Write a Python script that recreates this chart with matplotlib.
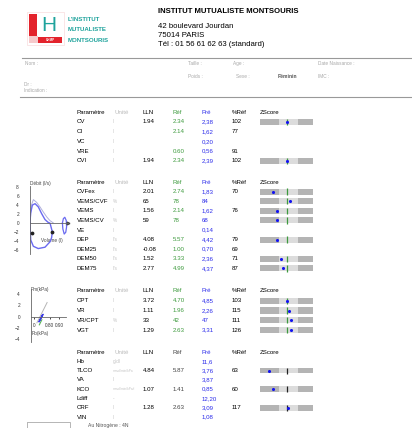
import numpy as np
import matplotlib.pyplot as plt
from matplotlib.patches import Rectangle

plt.rcParams["font.family"] = ["Liberation Sans", "DejaVu Sans"]

W, H = 412, 428
NAN = np.nan

# ---- report values ----
vol_params = ["CV", "CI", "VC", "VRE", "CVI"]
vol_units = ["l", "l", "l", "l", "l"]
vol_lln = [1.94, NAN, NAN, NAN, 1.94]
vol_ref = [2.34, 2.14, NAN, 0.60, 2.34]
vol_pre = [2.38, 1.62, 0.20, 0.56, 2.39]
vol_pct = [102, 77, NAN, 91, 102]
vol_z = [0.15, NAN, NAN, NAN, 0.15]

spi_params = ["CVFex", "VEMS/CVF", "VEMS", "VEMS/CV", "VE", "DEP", "DEM25", "DEM50", "DEM75"]
spi_units = ["l", "%", "l", "%", "l", "l/s", "l/s", "l/s", "l/s"]
spi_lln = [2.01, 65, 1.56, 59, NAN, 4.08, -0.08, 1.52, 2.77]
spi_ref = [2.74, 78, 2.14, 78, NAN, 5.57, 1.00, 3.33, 4.99]
spi_pre = [1.83, 84, 1.62, 68, 0.14, 4.42, 0.70, 2.36, 4.37]
spi_pct = [70, NAN, 76, NAN, NAN, 79, 69, 71, 87]
spi_z = [-2.0, 0.6, -1.5, -1.4, NAN, -1.4, NAN, -0.9, -0.6]

ple_params = ["CPT", "VR", "VR/CPT", "VGT"]
ple_units = ["l", "l", "%", "l"]
ple_lln = [3.72, 1.11, 33, 1.29]
ple_ref = [4.70, 1.96, 42, 2.63]
ple_pre = [4.85, 2.26, 47, 3.31]
ple_pct = [103, 115, 111, 126]
ple_z = [0.15, 0.45, 0.75, 0.75]

dif_params = ["Hb", "TLCO", "VA", "KCO", "Ldiff", "CRF", "VIN"]
dif_units = ["g/dl", "mmol/min/kPa", "l", "mmol/min/kPa/l", "-", "l", "l"]
dif_lln = [NAN, 4.84, NAN, 1.07, NAN, 1.28, NAN]
dif_ref = [NAN, 5.87, NAN, 1.41, NAN, 2.63, NAN]
dif_pre = [11.6, 3.76, 3.87, 0.85, 12.20, 3.09, 1.08]
dif_pct = [NAN, 63, NAN, 60, NAN, 117, NAN]
dif_z = [NAN, -2.7, NAN, -2.1, NAN, 0.3, NAN]

# flow-volume loop (volume l, flow l/s)
fv_ref_vol = [0.0, 0.12, 0.28, 0.55, 0.83, 1.1, 1.39, 1.65, 1.94]
fv_ref_flow = [0.0, 4.0, 5.2, 4.6, 3.6, 2.5, 1.4, 0.6, 0.05]
fv_vol = [0.0, 0.05, 0.2, 0.42, 0.69, 0.97, 1.25, 1.5, 1.67, 1.86, 1.8, 1.67,
          1.25, 0.69, 0.28, 0.06, 0.0]
fv_flow = [0.0, 2.2, 4.0, 4.3, 3.6, 2.1, 0.8, 0.2, 0.0, -1.9, -3.2, -4.1,
           -5.3, -5.6, -5.1, -3.7, 0.0]
fv_tid_vol = [2.7, 2.78, 2.9, 3.02, 3.05, 2.98, 2.85, 2.74, 2.7]
fv_tid_flow = [0.0, 1.0, 1.3, 0.6, -0.8, -2.0, -2.4, -1.3, 0.0]
fv_mark_vol = [0.17, 1.83]
fv_mark_flow = [-2.2, -2.0]
fv_ticks = [8, 6, 4, 2, 0, -2, -4, -6]

# pressure loop (Pb kPa, Pm kPa)
pv_ref_x = [0.09, 0.42]
pv_ref_y = [-1.1, 2.5]
pv_x = [0.16, 0.2, 0.25, 0.29, 0.27, 0.22, 0.17]
pv_y = [-0.9, -0.5, 0.0, 0.4, 0.3, -0.2, -0.8]
pv_g_x = [0.17, 0.25]
pv_g_y = [-1.45, -0.55]
pv_yticks = [4, 2, 0, -2, -4]
pv_xticks = [0.0, 0.5, 0.8]
pv_xlabels = ["0", "0.80", "0.90"]

GREEN = "#3d9a3d"
BLUE = "#2b2bea"
TEAL = "#1fa39c"
RED = "#e3232c"
LIGHT = "#a8a8a8"
FS = 4.4


def fmt(v, unit, comma=False):
    if np.isnan(v):
        return ""
    if unit == "%":
        s = f"{v:.0f}"
    elif unit == "g/dl":
        s = f"{v:.1f}"
    else:
        s = f"{v:.2f}"
    return s.replace(".", ",") if comma else s


def px_axes(fig, x0, y0, x1, y1):
    return fig.add_axes([x0 / W, 1 - y1 / H, (x1 - x0) / W, (y1 - y0) / H])


def draw_table(fig, ax, y0, dy, params, units, lln, ref, pre, pct, z,
               ref_color=GREEN, zline=GREEN):
    cols = [77, 115, 143, 173, 202, 232, 260]
    heads = ["Paramètre", "Unité", "LLN", "Réf", "Pré", "%Réf", "ZScore"]
    hcol = ["black", "#bbbbbb", "black", ref_color, BLUE, "black", "black"]
    for x, t, c in zip(cols, heads, hcol):
        ax.text(x, y0, t, fontsize=FS, color=c, va="center")
    for i, p in enumerate(params):
        y = y0 + dy * (i + 1)
        ufs = 3.4 if len(units[i]) < 6 else 2.3
        ax.text(cols[0], y, p, fontsize=FS, va="center")
        ax.text(cols[1] - 2, y, units[i], fontsize=ufs, color="#c4c4c4", va="center")
        ax.text(cols[2], y, fmt(lln[i], units[i]), fontsize=FS, va="center")
        ax.text(cols[3], y, fmt(ref[i], units[i]), fontsize=FS, color=ref_color, va="center")
        ax.text(cols[4], y, fmt(pre[i], units[i], comma=True), fontsize=FS, color=BLUE, va="center")
        ax.text(cols[5], y, fmt(pct[i], "%"), fontsize=FS, va="center")

    n = len(params)
    zax = px_axes(fig, 260, y0 + dy * 0.5, 313, y0 + dy * (n + 0.5))
    zax.set_xlim(-4, 4)
    zax.set_ylim(n + 0.5, 0.5)
    zax.axis("off")
    rows = [i + 1 for i in range(n) if not np.isnan(z[i])]
    zv = [v for v in z if not np.isnan(v)]
    edges = [-4, -1.2, 1.8, 4]
    shades = ["#b4b4b4", "#dcdcdc", "#b4b4b4"]
    for a, b, c in zip(edges[:-1], edges[1:], shades):
        zax.barh(rows, b - a, left=a, height=0.62, color=c, linewidth=0)
    zax.vlines([0] * len(rows), [r - 0.33 for r in rows], [r + 0.33 for r in rows],
               color=zline, lw=0.9)
    zax.scatter(zv, rows, s=5, color="#1414f0", zorder=3, linewidths=0)


fig = plt.figure(figsize=(W / 100, H / 100), dpi=100)
ax = fig.add_axes([0, 0, 1, 1])
ax.set_xlim(0, W)
ax.set_ylim(H, 0)
ax.axis("off")

# logo
ax.add_patch(Rectangle((27, 12), 37, 33, fill=False, ec="#f8dcdd", lw=0.5))
ax.add_patch(Rectangle((29, 14), 8, 22, color=RED, lw=0))
ax.add_patch(Rectangle((29, 36), 9, 7, color="#f6c9cb", lw=0))
ax.add_patch(Rectangle((38, 37), 24, 6, color=RED, lw=0))
ax.text(50, 40, "GHMP", fontsize=2.2, color="white", ha="center", va="center", weight="bold")
ax.text(49, 25, "H", fontsize=15, color=TEAL, ha="center", va="center")
for y, t in zip([19, 29, 40], ["L'INSTITUT", "MUTUALISTE", "MONTSOURIS"]):
    ax.text(68, y, t, fontsize=4.4, color=TEAL, weight="bold", va="center")

ax.text(158, 11, "INSTITUT MUTUALISTE MONTSOURIS", fontsize=5.6, weight="bold", va="center")
for y, t in zip([26, 35, 44], ["42 boulevard Jourdan", "75014 PARIS",
                               "Tél : 01 56 61 62 63 (standard)"]):
    ax.text(158, y, t, fontsize=5.6, va="center")

# patient block
ax.plot([22, W], [58, 58], color="#999999", lw=0.8)
ax.plot([20, W], [97, 97], color="#999999", lw=0.8)
fields = [(25, 63, "Nom :"), (188, 63, "Taille :"), (233, 63, "Age :"),
          (318, 63, "Date Naissance :"), (188, 76, "Poids :"), (236, 76, "Sexe :"),
          (318, 76, "IMC :"), (24, 84, "Dr :"), (24, 90, "Indication :")]
for x, y, t in fields:
    ax.text(x, y, t, fontsize=3.4, color=LIGHT, va="center")
ax.text(278, 76, "Féminin", fontsize=3.6, color="#555555", weight="bold", va="center")

draw_table(fig, ax, 112, 9.8, vol_params, vol_units, vol_lln, vol_ref, vol_pre, vol_pct, vol_z)
draw_table(fig, ax, 182, 9.6, spi_params, spi_units, spi_lln, spi_ref, spi_pre, spi_pct, spi_z)
draw_table(fig, ax, 291, 9.75, ple_params, ple_units, ple_lln, ple_ref, ple_pre, ple_pct, ple_z)
draw_table(fig, ax, 352, 9.3, dif_params, dif_units, dif_lln, dif_ref, dif_pre, dif_pct, dif_z,
           ref_color="#444444", zline="#222222")

# flow-volume loop
fv = px_axes(fig, 30, 186, 72, 254)
fv.set_xlim(0, 42 / 12)
fv.set_ylim(-6.8, 8.2)
for s in ["top", "right"]:
    fv.spines[s].set_visible(False)
fv.spines["bottom"].set_position(("data", 0))
fv.spines["bottom"].set_bounds(0, 3.2)
for s in ["left", "bottom"]:
    fv.spines[s].set_color("#666666")
    fv.spines[s].set_linewidth(0.6)
fv.set_xticks([])
fv.set_yticks(fv_ticks)
fv.tick_params(axis="y", labelsize=3.4, length=0, pad=8, labelcolor="#333333")
fv.patch.set_alpha(0)
fv.plot(fv_ref_vol, fv_ref_flow, color="#b0b0dc", lw=0.7)
fv.plot(fv_vol, fv_flow, color="#6a6af0", lw=1.0)
fv.plot(fv_tid_vol, fv_tid_flow, color="#6a6af0", lw=0.9)
fv.scatter(fv_mark_vol, fv_mark_flow, s=3, color="#222222", zorder=3)
fv.plot([3.2], [0], marker=">", ms=2, color="#444444")
ax.text(40, 183, "Débit (l/s)", fontsize=3.4, color="#444444", ha="center", va="center")
ax.text(52, 240, "Volume (l)", fontsize=3.4, color="#444444", ha="center", va="center")

# pressure plot
pv = px_axes(fig, 31, 289, 66, 342)
pv.set_xlim(-0.1, 1.03)
pv.set_ylim(-4.5, 4.9)
for s in ["top", "right"]:
    pv.spines[s].set_visible(False)
pv.spines["bottom"].set_position(("data", 0))
for s in ["left", "bottom"]:
    pv.spines[s].set_color("#666666")
    pv.spines[s].set_linewidth(0.6)
pv.set_yticks(pv_yticks)
pv.set_xticks(pv_xticks)
pv.set_xticklabels(pv_xlabels)
pv.tick_params(axis="y", labelsize=3.4, length=0, pad=8, labelcolor="#333333")
pv.tick_params(axis="x", labelsize=3.4, length=1.5, width=0.5, pad=3, labelcolor="#333333")
pv.patch.set_alpha(0)
pv.plot(pv_ref_x, pv_ref_y, color="#b5b5b5", lw=0.7)
pv.plot(pv_g_x, pv_g_y, color="#5ab55a", lw=0.8)
pv.plot(pv_x, pv_y, color="#3a3ae8", lw=1.0)
ax.text(40, 290, "Pm(kPa)", fontsize=3.4, color="#444444", ha="center", va="center")
ax.text(40, 333, "Pb(kPa)", fontsize=3.4, color="#444444", ha="center", va="center")

# footer
ax.add_patch(Rectangle((27, 422), 43, 8, fill=False, ec="#aaaaaa", lw=0.6))
ax.text(88, 425, "Au Nitrogène : 4N", fontsize=3.6, color="#555555", va="center")

fig.savefig("out.png", dpi=100)
